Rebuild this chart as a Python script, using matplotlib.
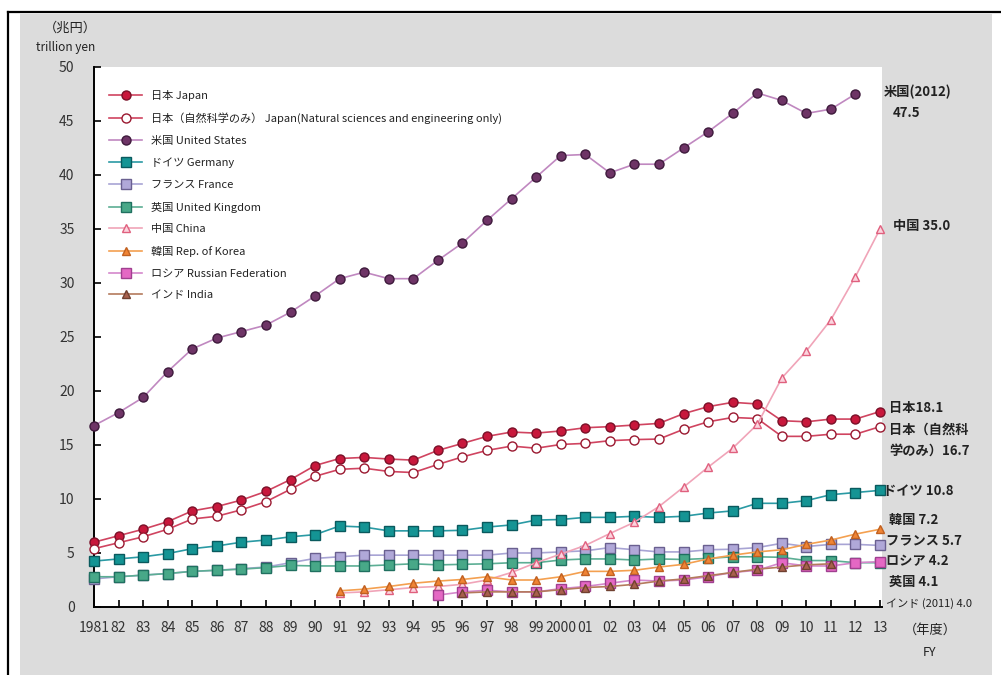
import matplotlib
matplotlib.use("Agg")
import matplotlib.pyplot as plt
from matplotlib.patches import Rectangle

plt.rcParams['font.family'] = ['Noto Sans CJK JP', 'DejaVu Sans']

# --- data (trillion yen) ---
years_all = list(range(1981, 2014))
years_us = list(range(1981, 2013))
years_cn = list(range(1991, 2014))
years_kr = list(range(1991, 2014))
years_ru = list(range(1995, 2014))
years_in = list(range(1996, 2012))

japan = [6.0, 6.6, 7.2, 7.9, 8.9, 9.3, 9.9, 10.7, 11.8, 13.1,
         13.75, 13.85, 13.7, 13.6, 14.5, 15.15, 15.8, 16.2, 16.1, 16.3,
         16.6, 16.7, 16.85, 17.0, 17.9, 18.55, 18.95, 18.8, 17.25, 17.15,
         17.4, 17.4, 18.1]
japan_ns = [5.4, 5.95, 6.5, 7.2, 8.15, 8.4, 9.0, 9.75, 10.9, 12.1,
            12.75, 12.85, 12.55, 12.45, 13.2, 13.9, 14.5, 14.9, 14.7, 15.05,
            15.15, 15.4, 15.5, 15.55, 16.45, 17.15, 17.55, 17.45, 15.8, 15.8,
            16.0, 16.0, 16.7]
us = [16.8, 18.0, 19.4, 21.8, 23.9, 24.9, 25.5, 26.1, 27.3, 28.8,
      30.4, 31.0, 30.4, 30.4, 32.1, 33.7, 35.8, 37.8, 39.8, 41.8,
      41.9, 40.2, 41.0, 41.0, 42.5, 44.0, 45.7, 47.6, 46.9, 45.7,
      46.1, 47.5]
germany = [4.25, 4.45, 4.65, 4.95, 5.4, 5.65, 6.0, 6.2, 6.5, 6.7,
           7.5, 7.4, 7.05, 7.05, 7.05, 7.1, 7.4, 7.6, 8.05, 8.1,
           8.3, 8.3, 8.4, 8.3, 8.4, 8.7, 8.9, 9.6, 9.6, 9.85,
           10.4, 10.6, 10.8]
france = [2.6, 2.8, 2.95, 3.1, 3.3, 3.4, 3.55, 3.7, 4.1, 4.5,
          4.65, 4.8, 4.8, 4.8, 4.8, 4.8, 4.8, 5.0, 5.0, 5.1,
          5.2, 5.5, 5.3, 5.1, 5.1, 5.3, 5.35, 5.5, 5.9, 5.6,
          5.8, 5.8, 5.7]
uk = [2.8, 2.8, 2.95, 3.1, 3.3, 3.4, 3.5, 3.65, 3.85, 3.8,
      3.8, 3.8, 3.9, 4.0, 3.9, 3.95, 4.0, 4.1, 4.1, 4.35,
      4.45, 4.45, 4.35, 4.45, 4.4, 4.5, 4.65, 4.65, 4.6, 4.3,
      4.3, 4.1, 4.1]
china = [1.3, 1.4, 1.6, 1.8, 1.9, 2.1, 2.5, 3.2, 4.1, 4.9,
         5.7, 6.8, 7.85, 9.3, 11.1, 12.95, 14.7, 16.9, 21.2, 23.7,
         26.6, 30.6, 35.0]
korea = [1.5, 1.65, 1.9, 2.2, 2.4, 2.55, 2.8, 2.5, 2.5, 2.8,
         3.3, 3.3, 3.4, 3.7, 3.95, 4.45, 4.8, 5.1, 5.3, 5.8,
         6.2, 6.75, 7.2]
russia = [1.1, 1.4, 1.55, 1.4, 1.4, 1.7, 1.9, 2.2, 2.5, 2.4,
          2.5, 2.8, 3.2, 3.4, 4.1, 3.8, 3.8, 4.1, 4.2]
india = [1.3, 1.4, 1.4, 1.4, 1.6, 1.8, 1.9, 2.1, 2.4, 2.6,
         2.9, 3.2, 3.5, 3.7, 3.9, 4.0]

tick_labels = ['1981', '82', '83', '84', '85', '86', '87', '88', '89', '90',
               '91', '92', '93', '94', '95', '96', '97', '98', '99', '2000',
               '01', '02', '03', '04', '05', '06', '07', '08', '09', '10',
               '11', '12', '13']

W, H = 1001, 675
fig = plt.figure(figsize=(W / 100, H / 100), dpi=100)
fig.patch.set_facecolor('white')

# background: gray panel and black frame lines, in pixel coords
bg = fig.add_axes([0, 0, 1, 1], zorder=-1)
bg.set_xlim(0, W)
bg.set_ylim(H, 0)
bg.axis('off')
bg.add_patch(Rectangle((20, 14), 972, H - 14, facecolor='#dcdcdc', edgecolor='none'))
bg.plot([8, 8], [12, H], color='black', lw=1.6)
bg.plot([8, W], [12, 12], color='black', lw=1.6)

ax = fig.add_axes([94 / W, (H - 607) / H, (882 - 94) / W, 540 / H])
ax.set_facecolor('white')

series = [
    (years_all, japan, '日本 Japan', dict(color='#d04460', marker='o', mfc='#c8183c', mec='#7a1028')),
    (years_all, japan_ns, '日本（自然科学のみ） Japan(Natural sciences and engineering only)',
     dict(color='#d04460', marker='o', mfc='white', mec='#9a1830')),
    (years_us, us, '米国 United States', dict(color='#c088c0', marker='o', mfc='#6e3466', mec='#3e1a3c')),
    (years_all, germany, 'ドイツ Germany', dict(color='#2a9aa4', marker='s', mfc='#149494', mec='#0a5a5e')),
    (years_all, france, 'フランス France', dict(color='#a8a4d4', marker='s', mfc='#b0a8d8', mec='#6a6090')),
    (years_all, uk, '英国 United Kingdom', dict(color='#5cae94', marker='s', mfc='#48a888', mec='#207060')),
    (years_cn, china, '中国 China', dict(color='#f0a4b8', marker='^', mfc='#fbd4de', mec='#e0607e')),
    (years_kr, korea, '韓国 Rep. of Korea', dict(color='#f4a050', marker='^', mfc='#f08434', mec='#c06020')),
    (years_ru, russia, 'ロシア Russian Federation', dict(color='#d488cc', marker='s', mfc='#e468c4', mec='#a04090')),
    (years_in, india, 'インド India', dict(color='#b47a5c', marker='^', mfc='#a8604c', mec='#704030')),
]

for xs, ys, label, st in series:
    ms = 7 if st['marker'] == 's' else (6.5 if st['marker'] == 'o' else 6)
    ax.plot(xs, ys, label=label, lw=1.2, ms=ms, mew=1.0, zorder=3, clip_on=False, **st)

ax.set_xlim(1981, 2013.08)
ax.set_ylim(0, 50)
ax.set_yticks(range(0, 51, 5))
ax.set_xticks(years_all)
ax.set_xticklabels(tick_labels)
ax.tick_params(axis='both', direction='in', length=5, width=1.2, colors='black',
               labelcolor='#333333', labelsize=10)
ax.tick_params(axis='x', pad=10)
ax.tick_params(axis='y', pad=14)
for s in ['top', 'right']:
    ax.spines[s].set_visible(False)
for s in ['left', 'bottom']:
    ax.spines[s].set_linewidth(1.4)

leg = ax.legend(loc='upper left', bbox_to_anchor=(0.012, 0.968), frameon=False,
                fontsize=8, handlelength=3.0, labelspacing=1.05, borderpad=0,
                handletextpad=0.8)
for t in leg.get_texts():
    t.set_color('#222222')

# axis captions
def ftext(px, py, s, **kw):
    fig.text(px / W, 1 - py / H, s, va='center', color='#222222', **kw)

ftext(70, 28, '（兆円）', ha='center', fontsize=9.5)
ftext(66, 47, 'trillion yen', ha='center', fontsize=8.5)
ftext(930, 630, '（年度）', ha='center', fontsize=9.5)
ftext(930, 652, 'FY', ha='center', fontsize=9)

# end labels
lab = dict(ha='left', fontsize=9.5, fontweight='bold')
ftext(884, 92, '米国(2012)', **lab)
ftext(893, 113, '47.5', **lab)
ftext(893, 226, '中国 35.0', **lab)
ftext(889, 408, '日本18.1', **lab)
ftext(889, 430, '日本（自然科', **lab)
ftext(889, 451, '学のみ）16.7', **lab)
ftext(883, 491, 'ドイツ 10.8', **lab)
ftext(889, 520, '韓国 7.2', **lab)
ftext(886, 540, 'フランス 5.7', **lab)
ftext(886, 561, 'ロシア 4.2', **lab)
ftext(889, 582, '英国 4.1', **lab)
ftext(886, 604, 'インド (2011) 4.0', ha='left', fontsize=8)

fig.savefig('out.png', dpi=100)
